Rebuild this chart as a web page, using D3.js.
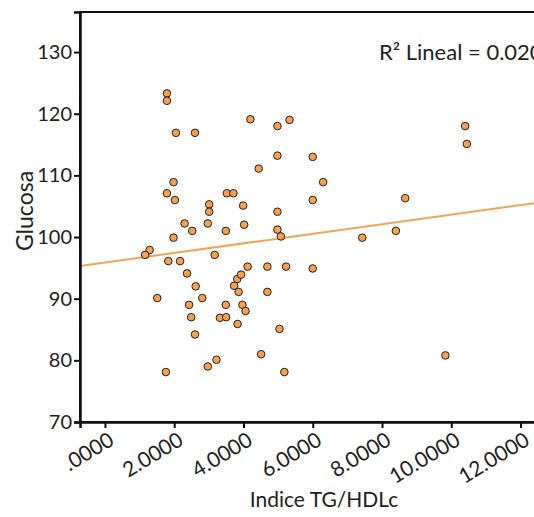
<!DOCTYPE html>
<html>
<head>
<meta charset="utf-8">
<script src="https://cdn.jsdelivr.net/npm/d3@7"></script>
<style>
  html, body { margin: 0; padding: 0; background: #fff; overflow: hidden; }
  svg { display: block; }
  text { font-family: Lato, "Open Sans", sans-serif; fill: #222; }
</style>
</head>
<body>
<div id="chart"></div>
<script>
// 数据：Indice TG/HDLc 与 Glucosa
const indiceTG = [
  1.79, 1.79, 2.05, 2.60, 4.20, 4.98, 5.33, 10.40, 10.45, 4.98,
  6.00, 4.44, 1.98, 6.30, 1.79, 2.02, 3.52, 3.71, 3.01, 3.01,
  3.99, 4.98, 6.00, 8.67, 2.30, 2.97, 4.02, 2.52, 3.49, 4.98,
  5.08, 1.98, 7.43, 8.40, 1.29, 1.16, 3.17, 1.83, 2.17, 2.37,
  2.62, 1.51, 2.81, 2.43, 2.49, 2.60, 1.76, 2.97, 3.22, 3.32,
  3.50, 3.49, 3.73, 3.82, 3.93, 4.12, 3.86, 3.97, 4.06, 3.83,
  4.51, 4.69, 4.69, 5.23, 6.00, 5.04, 5.18, 9.83
];
const glucosa = [
  123.3, 122.1, 116.9, 116.9, 119.1, 118.0, 119.0, 118.0, 115.1, 113.2,
  113.0, 111.1, 108.9, 108.9, 107.1, 106.0, 107.1, 107.1, 105.3, 104.1,
  105.1, 104.1, 106.0, 106.3, 102.2, 102.2, 102.0, 101.0, 101.0, 101.2,
  100.1, 99.9, 99.9, 101.0, 97.9, 97.1, 97.1, 96.1, 96.1, 94.1,
  92.0, 90.1, 90.1, 89.0, 87.0, 84.2, 78.1, 79.0, 80.1, 86.9,
  87.0, 89.0, 92.1, 93.2, 93.9, 95.2, 91.1, 89.0, 88.0, 85.9,
  81.0, 95.2, 91.1, 95.2, 94.9, 85.1, 78.1, 80.8
];
const xTicks = [0, 2, 4, 6, 8, 10, 12];
const yTicks = [70, 80, 90, 100, 110, 120, 130];
// 线性拟合
const fitIntercept = 95.87;
const fitSlope = 0.776;
const r2Label = "R² Lineal = 0.020";

const data = indiceTG.map((v, i) => ({ x: v, y: glucosa[i] }));

const width = 534;
const height = 517;
const plotLeft = 80;
const plotRight = 568;   // 右侧超出画面（原图被裁切）
const plotTop = 12;
const plotBottom = 422;

const svg = d3.select("#chart")
  .append("svg")
  .attr("width", width)
  .attr("height", height);

const x = d3.scaleLinear()
  .domain([-0.72, 13.37])
  .range([plotLeft, plotRight]);

const y = d3.scaleLinear()
  .domain([70, 136.5])
  .range([plotBottom, plotTop]);

// 外框（上、右）
svg.append("rect")
  .attr("x", plotLeft)
  .attr("y", plotTop)
  .attr("width", plotRight - plotLeft)
  .attr("height", plotBottom - plotTop)
  .attr("fill", "none")
  .attr("stroke", "#111")
  .attr("stroke-width", 2);

// 拟合线
svg.append("clipPath").attr("id", "plot-clip")
  .append("rect")
  .attr("x", plotLeft)
  .attr("y", plotTop)
  .attr("width", plotRight - plotLeft)
  .attr("height", plotBottom - plotTop);

const xd = x.domain();
svg.append("line")
  .attr("clip-path", "url(#plot-clip)")
  .attr("x1", x(xd[0]))
  .attr("y1", y(fitIntercept + fitSlope * xd[0]))
  .attr("x2", x(xd[1]))
  .attr("y2", y(fitIntercept + fitSlope * xd[1]))
  .attr("stroke", "#f5a455")
  .attr("stroke-width", 2);

// 散点
svg.append("g")
  .selectAll("circle")
  .data(data)
  .join("circle")
  .attr("cx", d => x(d.x))
  .attr("cy", d => y(d.y))
  .attr("r", 3.8)
  .attr("fill", "#f7a04f")
  .attr("stroke", "#222")
  .attr("stroke-width", 1);

// Y 轴
const yAxis = svg.append("g")
  .attr("transform", `translate(${plotLeft},0)`)
  .call(d3.axisLeft(y).tickValues(yTicks).tickSize(6).tickPadding(2).tickFormat(d3.format("d")));
yAxis.select(".domain").attr("stroke", "#111").attr("stroke-width", 2.5);
yAxis.selectAll(".tick line").attr("stroke", "#111").attr("stroke-width", 2);
yAxis.selectAll(".tick text")
  .attr("font-size", "20px")
  .style("font-family", "Lato, 'Open Sans', sans-serif")
  .attr("fill", "#222");

// X 轴
const xAxis = svg.append("g")
  .attr("transform", `translate(0,${plotBottom})`)
  .call(d3.axisBottom(x).tickValues(xTicks).tickSize(6).tickFormat(d => d === 0 ? ".0000" : d3.format(".4f")(d)));
xAxis.select(".domain").attr("stroke", "#111").attr("stroke-width", 2.5);
xAxis.selectAll(".tick line").attr("stroke", "#111").attr("stroke-width", 2);
xAxis.selectAll(".tick text")
  .attr("font-size", "21px")
  .style("font-family", "Lato, 'Open Sans', sans-serif")
  .attr("fill", "#222")
  .attr("text-anchor", "end")
  .attr("x", 0)
  .attr("y", 0)
  .attr("dy", "0")
  .attr("transform", "translate(10,22) rotate(-31)");

// 坐标轴标题
svg.append("text")
  .attr("x", 324)
  .attr("y", 507)
  .attr("text-anchor", "middle")
  .attr("font-size", "21px")
  .text("Indice TG/HDLc");

svg.append("text")
  .attr("transform", "translate(33,211) rotate(-90)")
  .attr("text-anchor", "middle")
  .attr("font-size", "23px")
  .text("Glucosa");

// R² 标注
svg.append("text")
  .attr("x", 379)
  .attr("y", 60)
  .attr("font-size", "22px")
  .text(r2Label);
</script>
</body>
</html>
